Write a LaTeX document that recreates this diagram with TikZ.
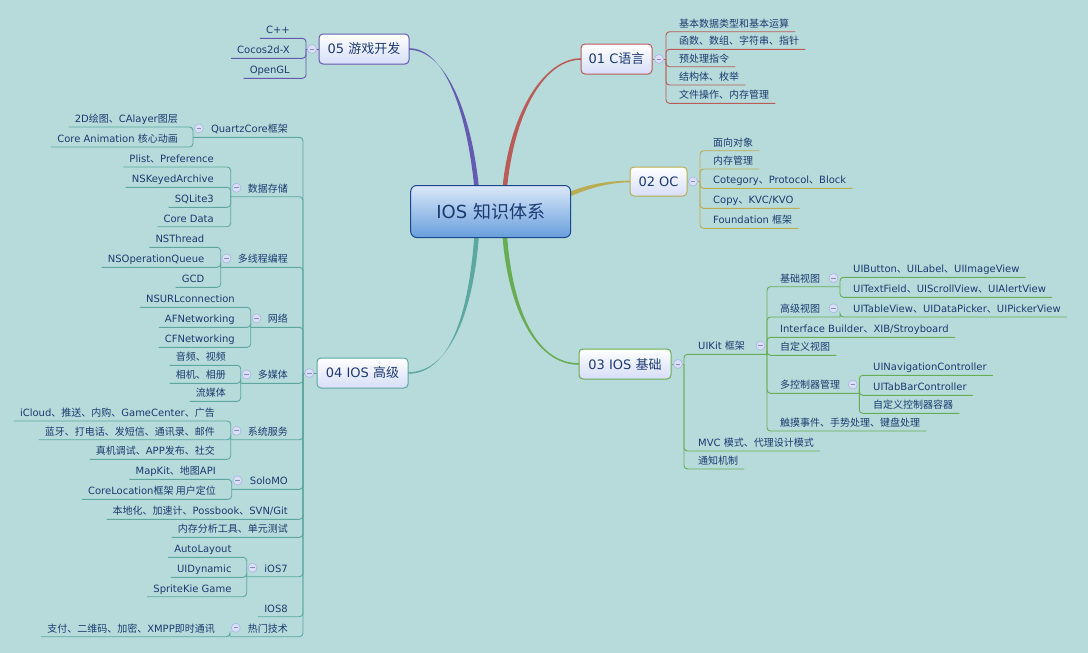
\documentclass[tikz,border=0pt]{standalone}
\usepackage{fontspec}
\usetikzlibrary{calc}
\setmainfont{DejaVu Sans}
\newfontfamily\cjkfont{Noto Sans CJK SC}
\newfontfamily\latfont{DejaVu Sans}
\XeTeXinterchartokenstate=1
\chardef\CJKcls=7
\newcount\cjkcnt
\cjkcnt="3000
\loop \XeTeXcharclass\cjkcnt=\CJKcls \ifnum\cjkcnt<"303F \advance\cjkcnt by 1 \repeat
\cjkcnt="4E00
\loop \XeTeXcharclass\cjkcnt=\CJKcls \ifnum\cjkcnt<"9FFF \advance\cjkcnt by 1 \repeat
\cjkcnt="FF00
\loop \XeTeXcharclass\cjkcnt=\CJKcls \ifnum\cjkcnt<"FFEF \advance\cjkcnt by 1 \repeat
\XeTeXinterchartoks 0 \CJKcls = {\cjkfont}
\XeTeXinterchartoks 4095 \CJKcls = {\cjkfont}
\XeTeXinterchartoks \CJKcls 0 = {\latfont}

\definecolor{bg}{RGB}{183,219,218}
\definecolor{txtc}{RGB}{28,58,112}
\definecolor{c01}{RGB}{185,92,88}
\definecolor{c02}{RGB}{185,172,82}
\definecolor{c03}{RGB}{104,172,84}
\definecolor{c04}{RGB}{92,168,160}
\definecolor{c05}{RGB}{100,90,175}
\definecolor{boxbot}{RGB}{214,222,248}
\definecolor{centop}{RGB}{218,232,248}
\definecolor{cenbot}{RGB}{104,158,220}
\definecolor{cenbd}{RGB}{25,72,140}
\definecolor{mfill}{RGB}{218,223,246}
\definecolor{mbd}{RGB}{170,182,228}
\definecolor{mline}{RGB}{130,142,196}

\tikzset{
  sub/.style={inner sep=0pt, text=txtc, font=\fontsize{10}{12}\selectfont},
  topic/.style={draw=#1, line width=1pt, rounded corners=4pt, top color=white,
    bottom color=boxbot, minimum height=30pt, inner sep=0pt, text=txtc,
    font=\fontsize{13}{15}\selectfont},
  minus/.style={circle, draw=mbd, fill=mfill, line width=0.6pt, minimum size=9pt,
    inner sep=0pt, path picture={\draw[mline, line width=0.8pt]
      ([xshift=2.2pt]path picture bounding box.west) --
      ([xshift=-2.2pt]path picture bounding box.east);}},
  lnk/.style={draw=black, line width=0.9pt, rounded corners=3.5pt}
}

\newcommand\Rkid[5]{%
  \node[sub, anchor=base west] (#1) at (#3,#4-4.5) {#5};
  \draw[lnk] (#2) |- ($(#1.base east)+(6,4.5)$);}
\newcommand\Lkid[5]{%
  \node[sub, anchor=base east] (#1) at (#3,#4-4.5) {#5};
  \draw[lnk] (#2) |- ($(#1.base west)+(-6,4.5)$);}
\newcommand\Rsub[6]{%
  \node[sub, anchor=base west] (#1) at (#3,#4-4.5) {#5};
  \coordinate (#1s) at (#6,#4);
  \draw[lnk] (#2) |- (#1s);
  \node[minus] (#1m) at (#6-6.5,#4-8.7) {};}
\newcommand\Lsub[6]{%
  \node[sub, anchor=base east] (#1) at (#3,#4-4.5) {#5};
  \coordinate (#1s) at (#6,#4);
  \draw[lnk] (#2) |- (#1s);
  \node[minus] (#1m) at (#6+5.8,#4-8.9) {};}

\begin{document}
\begin{tikzpicture}[x=1pt,y=-1pt]
\useasboundingbox (0,0) rectangle (1088,653);
\fill[bg] (0,0) rectangle (1088,653);

% ---------- main topic boxes (placed first, drawn over later) ----------
\path (490.7,211.5) node[minimum width=160pt, minimum height=52pt] (center) {};
\path (364,49) node[minimum width=90pt, minimum height=30pt] (t05p) {};
\coordinate (s05) at ([xshift=-14pt,yshift=-3pt]center.north);
\coordinate (s01) at ([xshift=14pt,yshift=-3pt]center.north);
\coordinate (s04) at ([xshift=-14pt,yshift=3pt]center.south);
\coordinate (s03) at ([xshift=14pt,yshift=3pt]center.south);
\coordinate (s02) at ([xshift=-3pt,yshift=16.5pt]center.east);
\coordinate (e05) at (409,49);
\coordinate (e01) at (581,59);
\coordinate (e02) at (630,181.5);
\coordinate (e03) at (579,364);
\coordinate (e04) at (408,373);

% ---------- tapered main branches ----------
\fill[c05] ($(s05)+(-2.3,0)$) .. controls +(-8,-80) and +(35,0) .. ($(e05)+(0,-0.8)$)
  -- ($(e05)+(0,0.8)$) .. controls +(35,0) and +(-8,-80) .. ($(s05)+(2.3,0)$) -- cycle;
\fill[c01] ($(s01)+(-2.3,0)$) .. controls +(8,-80) and +(-35,0) .. ($(e01)+(0,-0.8)$)
  -- ($(e01)+(0,0.8)$) .. controls +(-35,0) and +(8,-80) .. ($(s01)+(2.3,0)$) -- cycle;
\fill[c04] ($(s04)+(-2.3,0)$) .. controls +(-5,70) and +(45,0) .. ($(e04)+(0,0.8)$)
  -- ($(e04)+(0,-0.8)$) .. controls +(45,0) and +(-5,70) .. ($(s04)+(2.3,0)$) -- cycle;
\fill[c03] ($(s03)+(-2.3,0)$) .. controls +(5,70) and +(-45,0) .. ($(e03)+(0,0.8)$)
  -- ($(e03)+(0,-0.8)$) .. controls +(-45,0) and +(5,70) .. ($(s03)+(2.3,0)$) -- cycle;
\fill[c02] ($(s02)+(0,-2.3)$) .. controls +(18,-8) and +(-22,0) .. ($(e02)+(0,-0.8)$)
  -- ($(e02)+(0,0.8)$) .. controls +(-22,0) and +(18,-8) .. ($(s02)+(0,2.3)$) -- cycle;

% ---------- boxes ----------
\node[draw=cenbd, line width=1pt, rounded corners=6pt, top color=centop, bottom color=cenbot,
  minimum width=160pt, minimum height=52pt, inner sep=0pt, text=txtc,
  font=\fontsize{18}{20}\selectfont] (centerbox) at (490.7,211.5) {IOS 知识体系};
\node[topic=c05, minimum width=90pt] (t05) at (364,49) {05 游戏开发};
\node[topic=c01, minimum width=71pt] (t01) at (616.5,59) {01 C语言};
\node[topic=c02, minimum width=57pt, minimum height=29pt] (t02) at (658.5,181.5) {02 OC};
\node[topic=c03, minimum width=92pt] (t03) at (625,364) {03 IOS 基础};
\node[topic=c04, minimum width=91pt] (t04) at (362.5,373) {04 IOS 高级};

% ---------- 05 ----------
\begin{scope}[lnk/.style={draw=c05, line width=0.9pt, rounded corners=3.5pt}]
\coordinate (sp05) at (306,49);
\draw[lnk] (t05.west) -- (sp05);
\Lkid{g1}{sp05}{290}{38.3}{C++}
\Lkid{g2}{sp05}{290}{58.3}{Cocos2d-X}
\Lkid{g3}{sp05}{290}{78.3}{OpenGL}
\node[minus] (m05) at (312,49) {};
\end{scope}

% ---------- 01 ----------
\begin{scope}[lnk/.style={draw=c01, line width=0.9pt, rounded corners=3.5pt}]
\coordinate (sp01) at (666,59);
\draw[lnk] (t01.east) -- (sp01);
\Rkid{a1}{sp01}{679}{31.7}{基本数据类型和基本运算}
\Rkid{a2}{sp01}{679}{49.3}{函数、数组、字符串、指针}
\Rkid{a3}{sp01}{679}{66.7}{预处理指令}
\Rkid{a4}{sp01}{679}{85}{结构体、枚举}
\Rkid{a5}{sp01}{679}{103.3}{文件操作、内存管理}
\node[minus] (m01) at (659,59) {};
\end{scope}

% ---------- 02 ----------
\begin{scope}[lnk/.style={draw=c02, line width=0.9pt, rounded corners=3.5pt}]
\coordinate (sp02) at (700,181.5);
\draw[lnk] (t02.east) -- (sp02);
\Rkid{b1}{sp02}{713}{150.7}{面向对象}
\Rkid{b2}{sp02}{713}{169}{内存管理}
\Rkid{b3}{sp02}{713}{188.3}{Cotegory、Protocol、Block}
\Rkid{b4}{sp02}{713}{208.3}{Copy、KVC/KVO}
\Rkid{b5}{sp02}{713}{228.3}{Foundation 框架}
\node[minus] (m02) at (693,181.5) {};
\end{scope}

% ---------- 03 ----------
\begin{scope}[lnk/.style={draw=c03, line width=0.9pt, rounded corners=3.5pt}]
\coordinate (sp03) at (684,364);
\draw[lnk] (t03.east) -- (sp03);
\Rsub{uik}{sp03}{698}{354.3}{UIKit 框架}{767}
\Rkid{mvc}{sp03}{698}{451}{MVC 模式、代理设计模式}
\Rkid{tz}{sp03}{698}{469}{通知机制}
\Rsub{jc}{uiks}{780}{286.7}{基础视图}{840}
\Rsub{gj}{uiks}{780}{317}{高级视图}{840}
\Rkid{ib}{uiks}{780}{337.3}{Interface Builder、XIB/Stroyboard}
\Rkid{zdy}{uiks}{780}{355.3}{自定义视图}
\Rsub{dkz}{uiks}{780}{393.3}{多控制器管理}{859.3}
\Rkid{cm}{uiks}{780}{431}{触摸事件、手势处理、键盘处理}
\Rkid{jc1}{jcs}{853}{277.3}{UIButton、UILabel、UIImageView}
\Rkid{jc2}{jcs}{853}{297.3}{UITextField、UIScrollView、UIAlertView}
\Rkid{gj1}{gjs}{853}{317}{UITableView、UIDataPicker、UIPickerView}
\Rkid{dk1}{dkzs}{873}{375.3}{UINavigationController}
\Rkid{dk2}{dkzs}{873}{395.3}{UITabBarController}
\Rkid{dk3}{dkzs}{873}{413.3}{自定义控制器容器}
\node[minus] (m03) at (678,364) {};
\end{scope}

% ---------- 04 ----------
\begin{scope}[lnk/.style={draw=c04, line width=0.9pt, rounded corners=3.5pt}]
\coordinate (sp04) at (303,373);
\draw[lnk] (t04.west) -- (sp04);
\Lsub{qc}{sp04}{288}{137.3}{QuartzCore框架}{193}
\Lkid{qc1}{qcs}{178}{127}{2D绘图、CAlayer图层}
\Lkid{qc2}{qcs}{178}{147}{Core Animation 核心动画}
\Lsub{sj}{sp04}{288}{196.7}{数据存储}{230.7}
\Lkid{sj1}{sjs}{214}{167}{Plist、Preference}
\Lkid{sj2}{sjs}{214}{187.3}{NSKeyedArchive}
\Lkid{sj3}{sjs}{214}{207.3}{SQLite3}
\Lkid{sj4}{sjs}{214}{226.7}{Core Data}
\Lsub{dx}{sp04}{288}{267.3}{多线程编程}{220.7}
\Lkid{dx1}{dxs}{204.5}{247.3}{NSThread}
\Lkid{dx2}{dxs}{204.5}{267.3}{NSOperationQueue}
\Lkid{dx3}{dxs}{204.5}{287.3}{GCD}
\Lsub{wl}{sp04}{288}{327.3}{网络}{250.7}
\Lkid{wl1}{wls}{235}{307.3}{NSURLconnection}
\Lkid{wl2}{wls}{235}{327.3}{AFNetworking}
\Lkid{wl3}{wls}{235}{347.3}{CFNetworking}
\Lsub{dm}{sp04}{288}{383.3}{多媒体}{240.7}
\Lkid{dm1}{dms}{226}{365.3}{音频、视频}
\Lkid{dm2}{dms}{226}{383.3}{相机、相册}
\Lkid{dm3}{dms}{226}{401.3}{流媒体}
\Lsub{xt}{sp04}{288}{439.7}{系统服务}{230.7}
\Lkid{xt1}{xts}{215}{421}{iCloud、推送、内购、GameCenter、广告}
\Lkid{xt2}{xts}{215}{439.7}{蓝牙、打电话、发短信、通讯录、邮件}
\Lkid{xt3}{xts}{215}{459.3}{真机调试、APP发布、社交}
\Lsub{so}{sp04}{288}{489.3}{SoloMO}{231.7}
\Lkid{so1}{sos}{216}{479.3}{MapKit、地图API}
\Lkid{so2}{sos}{216}{499.3}{CoreLocation框架 用户定位}
\Lkid{bd}{sp04}{288}{519.3}{本地化、加速计、Possbook、SVN/Git}
\Lkid{nc}{sp04}{288}{537.3}{内存分析工具、单元测试}
\Lsub{ios}{sp04}{288}{576.7}{iOS7}{246.7}
\Lkid{ios1}{ioss}{231.7}{557.3}{AutoLayout}
\Lkid{ios2}{ioss}{231.7}{577.3}{UIDynamic}
\Lkid{ios3}{ioss}{231.7}{596.7}{SpriteKie Game}
\Lkid{ios8}{sp04}{288}{616.7}{IOS8}
\Lsub{rm}{sp04}{288}{636.7}{热门技术}{230}
\Lkid{rm1}{rms}{215}{636.7}{支付、二维码、加密、XMPP即时通讯}
\node[minus] (m04) at (309.3,373) {};
\end{scope}
\end{tikzpicture}
\end{document}
